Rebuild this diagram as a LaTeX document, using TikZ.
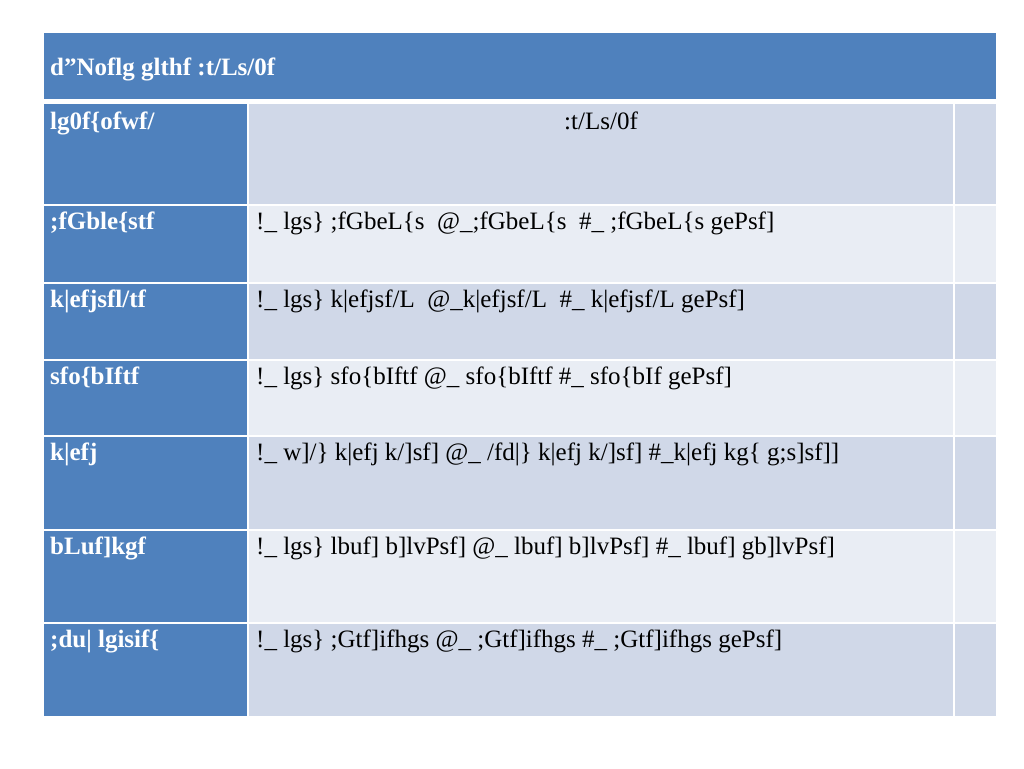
\documentclass[tikz,border=0pt]{standalone}
\usepackage{fontspec}
\setmainfont{Liberation Serif}
\definecolor{hdblue}{HTML}{4F81BD}
\definecolor{rowdark}{HTML}{D0D8E8}
\definecolor{rowlight}{HTML}{E9EDF4}
\tikzset{
  cellbox/.style={draw=white,line width=2pt},
  labtext/.style={anchor=north west,inner sep=0pt,text=white,font=\fontsize{25}{25}\selectfont\bfseries},
  celltext/.style={anchor=north west,inner sep=0pt,font=\fontsize{25}{25}\selectfont}
}
\begin{document}
\begin{tikzpicture}[x=1pt,y=-1pt]
  \useasboundingbox (0,0) rectangle (1024,768);
  \fill[white] (0,0) rectangle (1024,768);
  % header
  \draw[cellbox,fill=hdblue] (43,32) rectangle (997,100);
  \draw[white,line width=4pt] (43,101) -- (997,101);
  % rows
  \draw[cellbox,fill=hdblue] (43,103) rectangle (248,717);
  \draw[cellbox,fill=rowdark] (248,103) rectangle (954,205);
  \draw[cellbox,fill=rowdark] (954,103) rectangle (997,205);
  \draw[cellbox,fill=rowlight] (248,205) rectangle (954,283);
  \draw[cellbox,fill=rowlight] (954,205) rectangle (997,283);
  \draw[cellbox,fill=rowdark] (248,283) rectangle (954,360);
  \draw[cellbox,fill=rowdark] (954,283) rectangle (997,360);
  \draw[cellbox,fill=rowlight] (248,360) rectangle (954,436);
  \draw[cellbox,fill=rowlight] (954,360) rectangle (997,436);
  \draw[cellbox,fill=rowdark] (248,436) rectangle (954,530);
  \draw[cellbox,fill=rowdark] (954,436) rectangle (997,530);
  \draw[cellbox,fill=rowlight] (248,530) rectangle (954,623);
  \draw[cellbox,fill=rowlight] (954,530) rectangle (997,623);
  \draw[cellbox,fill=rowdark] (248,623) rectangle (954,717);
  \draw[cellbox,fill=rowdark] (954,623) rectangle (997,717);
  \foreach \y in {205,283,360,436,530,623}
    \draw[white,line width=2pt] (43,\y) -- (248,\y);
  % texts
  \node[labtext] (title) at (50,58) {d"Noflg glthf :t/Ls/0f};
  \node[labtext] (lab1) at (50,112) {lg0f\{ofwf/};
  \node[anchor=north,inner sep=0pt,font=\fontsize{25}{25}\selectfont] (txt1) at (601,112) {:t/Ls/0f};
  \node[labtext] (lab2) at (50,212) {;fGble\{stf};
  \node[celltext] (txt2) at (256,212) {!\_ lgs\} ;fGbeL\{s\ \ @\_;fGbeL\{s\ \ \#\_ ;fGbeL\{s gePsf]};
  \node[labtext] (lab3) at (50,290) {k|efjsfl/tf};
  \node[celltext] (txt3) at (256,290) {!\_ lgs\} k|efjsf/L\ \ @\_k|efjsf/L\ \ \#\_ k|efjsf/L gePsf]};
  \node[labtext] (lab4) at (50,367) {sfo\{bIftf};
  \node[celltext] (txt4) at (256,367) {!\_ lgs\} sfo\{bIftf @\_ sfo\{bIftf \#\_ sfo\{bIf gePsf]};
  \node[labtext] (lab5) at (50,443) {k|efj};
  \node[celltext] (txt5) at (256,443) {!\_ w]/\} k|efj k/]sf] @\_ /fd|\} k|efj k/]sf] \#\_k|efj kg\{ g;s]sf]]};
  \node[labtext] (lab6) at (50,537) {bLuf]kgf};
  \node[celltext] (txt6) at (256,537) {!\_ lgs\} lbuf] b]lvPsf] @\_ lbuf] b]lvPsf] \#\_ lbuf] gb]lvPsf]};
  \node[labtext] (lab7) at (50,630) {;du| lgisif\{};
  \node[celltext] (txt7) at (256,630) {!\_ lgs\} ;Gtf]ifhgs @\_ ;Gtf]ifhgs \#\_ ;Gtf]ifhgs gePsf]};
\end{tikzpicture}
\end{document}
